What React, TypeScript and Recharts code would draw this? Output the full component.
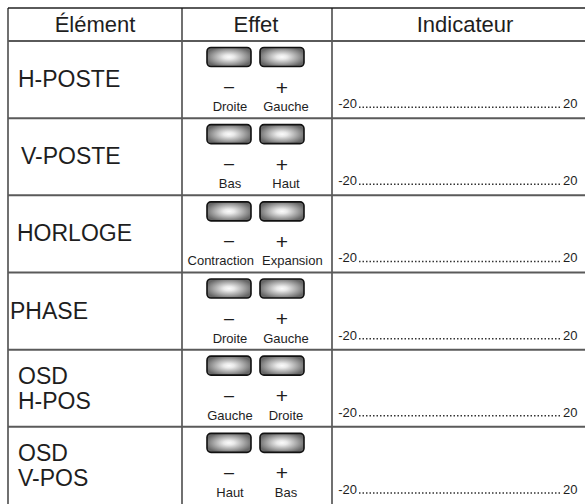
import { Bar, ComposedChart, Customized, XAxis, YAxis } from "recharts";

const HEADERS = ["Élément", "Effet", "Indicateur"];
const ELEMENTS = ["H-POSTE", "V-POSTE", "HORLOGE", "PHASE", "OSD\nH-POS", "OSD\nV-POS"];
const MINUS_LABELS = ["Droite", "Bas", "Contraction", "Droite", "Gauche", "Haut"];
const PLUS_LABELS = ["Gauche", "Haut", "Expansion", "Gauche", "Droite", "Bas"];
const INDICATOR_MIN = [-20, -20, -20, -20, -20, -20];
const INDICATOR_MAX = [20, 20, 20, 20, 20, 20];

const data = ELEMENTS.map((element, i) => ({
  element,
  minus: MINUS_LABELS[i],
  plus: PLUS_LABELS[i],
  lo: INDICATOR_MIN[i],
  hi: INDICATOR_MAX[i],
  range: [INDICATOR_MIN[i], INDICATOR_MAX[i]],
}));

// layout (page pixels)
const W = 585;
const H = 504;
const TOP = 8;
const HEAD = 41;
const COLS = [8, 182, 332];
const LABEL_X = [18, 21, 17, 10, 18, 18];
const FONT = "'Liberation Sans', Arial, Helvetica, sans-serif";
const INK = "#1e1e1e";
const RULE = "#5a5a5a";

function TableFrame() {
  return (
    <g>
      <line x1={COLS[0]} x2={W} y1={TOP} y2={TOP} stroke={RULE} strokeWidth={2} />
      {COLS.map((c) => (
        <line key={c} x1={c} x2={c} y1={TOP} y2={H} stroke="#111" strokeWidth={1.2} />
      ))}
      <text x={95} y={32} textAnchor="middle" fontSize={22} fontFamily={FONT} fill={INK}>
        {HEADERS[0]}
      </text>
      <text x={256} y={32} textAnchor="middle" fontSize={22} fontFamily={FONT} fill={INK}>
        {HEADERS[1]}
      </text>
      <text x={465} y={32} textAnchor="middle" fontSize={22} fontFamily={FONT} fill={INK}>
        {HEADERS[2]}
      </text>
    </g>
  );
}

function Button({ x, y }: { x: number; y: number }) {
  return (
    <rect x={x} y={y} width={44} height={19} rx={4} ry={4} fill="url(#btnGrad)" stroke="#111" strokeWidth={1.6} />
  );
}

function RowShape(props: any) {
  const { x, y, width, payload, index } = props;
  const top = y;
  const lines: string[] = payload.element.split("\n");
  const lx = LABEL_X[index] ?? 18;

  // wide labels get pushed apart so they don't run into each other
  const wl = payload.minus.length * 6.5;
  const wr = payload.plus.length * 6.5;
  const leftFits = 230 + wl / 2 <= 254;
  const rightFits = 286 - wr / 2 >= 262;

  const base = top + 67;
  return (
    <g>
      <line x1={COLS[0]} x2={W} y1={top} y2={top} stroke={RULE} strokeWidth={2} />
      {lines.length === 1 ? (
        <text x={lx} y={top + 46} fontSize={23} fontFamily={FONT} fill={INK}>
          {lines[0]}
        </text>
      ) : (
        lines.map((t, k) => (
          <text key={k} x={lx} y={top + 34 + k * 25} fontSize={23} fontFamily={FONT} fill={INK}>
            {t}
          </text>
        ))
      )}

      <Button x={207} y={top + 6.5} />
      <Button x={260} y={top + 6.5} />
      <text x={229} y={top + 51} textAnchor="middle" fontSize={18} fontFamily={FONT} fill={INK}>
        –
      </text>
      <text x={282} y={top + 53.5} textAnchor="middle" fontSize={21} fontFamily={FONT} fill={INK}>
        +
      </text>
      <text
        x={leftFits ? 230 : 254}
        y={top + 70}
        textAnchor={leftFits ? "middle" : "end"}
        fontSize={13}
        fontFamily={FONT}
        fill={INK}
      >
        {payload.minus}
      </text>
      <text
        x={rightFits ? 286 : 262}
        y={top + 70}
        textAnchor={rightFits ? "middle" : "start"}
        fontSize={13}
        fontFamily={FONT}
        fill={INK}
      >
        {payload.plus}
      </text>

      <text x={x - 1} y={base} textAnchor="end" fontSize={13} fontFamily={FONT} fill={INK}>
        {payload.lo}
      </text>
      <line
        x1={x + 1}
        x2={x + width - 1}
        y1={base - 0.8}
        y2={base - 0.8}
        stroke="#333"
        strokeWidth={1.5}
        strokeDasharray="1.5 2"
      />
      <text x={x + width} y={base} textAnchor="start" fontSize={13} fontFamily={FONT} fill={INK}>
        {payload.hi}
      </text>
    </g>
  );
}

export default function App() {
  return (
    <div style={{ position: "absolute", left: 0, top: 0, background: "#fff" }}>
      <ComposedChart
        width={W}
        height={H}
        data={data}
        layout="vertical"
        margin={{ top: HEAD, right: 22, bottom: 0, left: 0 }}
        barCategoryGap={0}
      >
        <defs>
          <radialGradient id="btnGrad" cx="50%" cy="50%" r="55%">
            <stop offset="0%" stopColor="#fbfbfb" />
            <stop offset="22%" stopColor="#e9e9e9" />
            <stop offset="60%" stopColor="#aaaaaa" />
            <stop offset="100%" stopColor="#666666" />
          </radialGradient>
        </defs>
        <XAxis type="number" domain={[-20, 20]} hide />
        <YAxis type="category" dataKey="element" width={358} tick={false} axisLine={false} tickLine={false} />
        <Bar dataKey="range" shape={RowShape} isAnimationActive={false} />
        <Customized component={TableFrame} />
      </ComposedChart>
    </div>
  );
}
